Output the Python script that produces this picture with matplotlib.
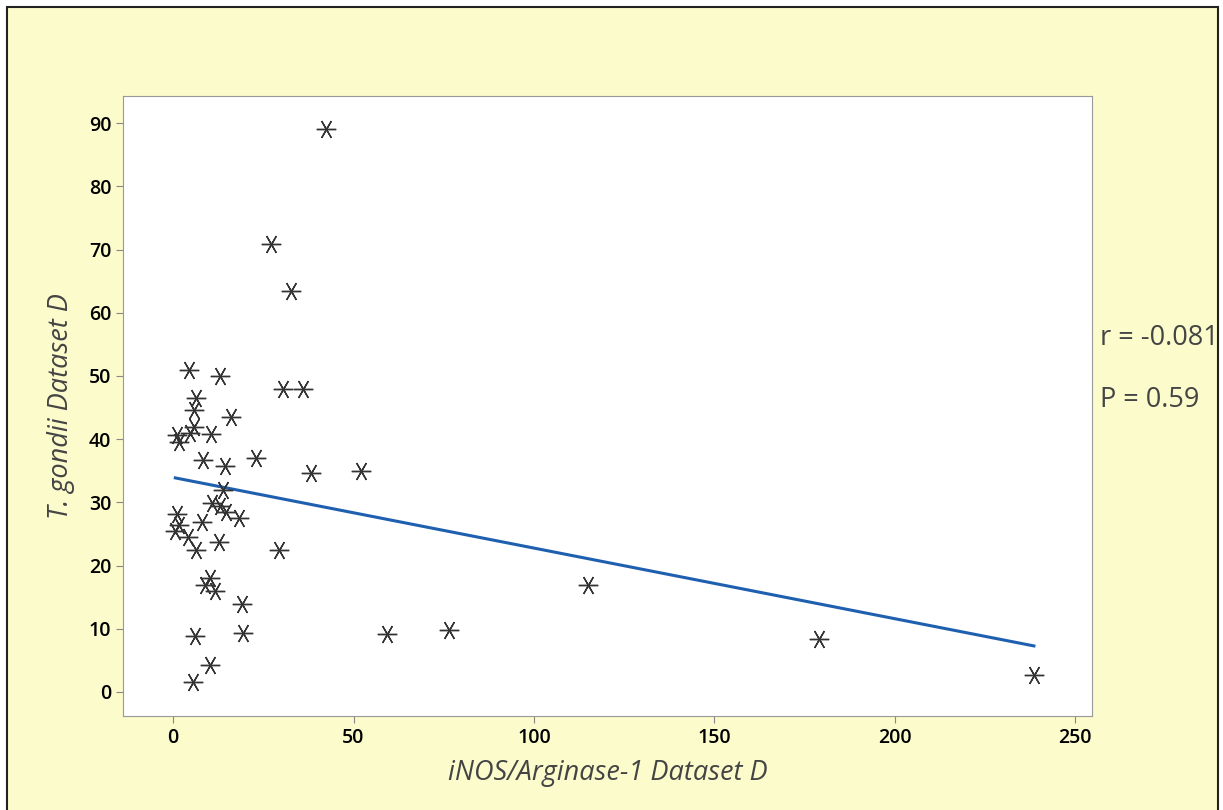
import matplotlib
matplotlib.use("Agg")
import matplotlib.pyplot as plt
from matplotlib.patches import Rectangle

# iNOS/Arginase-1 ratio vs T. gondii
inos_arg = [42.4, 27.2, 32.7, 4.5, 13.0, 30.4, 36.1, 6.4, 5.8, 16.1,
            5.8, 4.7, 1.2, 10.4, 1.7, 8.4, 23.0, 14.4, 38.2, 52.1,
            13.9, 10.8, 13.0, 14.7, 18.3, 1.0, 8.0, 1.5, 0.6, 4.2,
            12.8, 6.4, 29.3, 10.1, 8.9, 11.5, 19.2, 6.1, 19.5, 10.3,
            5.6, 59.3, 76.5, 115.0, 179.0, 238.6]
tgondii = [89.1, 70.9, 63.4, 51.0, 50.0, 47.9, 47.9, 46.5, 44.6, 43.5,
           41.9, 40.9, 40.7, 40.8, 39.6, 36.7, 37.0, 35.7, 34.7, 35.0,
           32.0, 29.9, 29.5, 28.4, 27.5, 28.2, 26.9, 26.4, 25.4, 24.5,
           23.8, 22.5, 22.5, 18.1, 16.9, 16.0, 13.9, 8.9, 9.4, 4.3,
           1.6, 9.2, 9.8, 16.9, 8.4, 2.7]

# fitted line as drawn in the reference
fit_intercept = 33.94
fit_slope = -0.1117
fit_range = [0.6, 238.6]

x_ticks = [0, 50, 100, 150, 200, 250]
y_ticks = [0, 10, 20, 30, 40, 50, 60, 70, 80, 90]

bg = "#fbfbcb"
plt.rcParams['font.family'] = ['Open Sans', 'DejaVu Sans']

fig = plt.figure(figsize=(12.23, 8.10), dpi=100)
fig.patch.set_facecolor("white")
fig.patches.append(Rectangle((7 / 1223, -0.01), 1211 / 1223, 1 - 7 / 810 + 0.01,
                             transform=fig.transFigure, facecolor=bg,
                             edgecolor="#222222", linewidth=1.5, zorder=-1))

ax = fig.add_axes([123 / 1223, 1 - 716 / 810, (1092 - 123) / 1223, (716 - 96) / 810])
ax.set_zorder(1)
ax.set_facecolor("white")

fit_y = [fit_intercept + fit_slope * v for v in fit_range]
ax.plot(fit_range, fit_y, color="#1f5fb0", linewidth=2.2, zorder=2)
ax.plot(inos_arg, tgondii, linestyle="none", marker=(6, 2, 90), markersize=14,
        markeredgecolor="#333333", markeredgewidth=1.0, zorder=3)

ax.set_xlim(-13.9, 254.7)
ax.set_ylim(-3.8, 94.3)
ax.set_xticks(x_ticks)
ax.set_yticks(y_ticks)
ax.tick_params(colors="#888888", labelcolor="black", labelsize=14, length=5)
for lbl in ax.get_xticklabels() + ax.get_yticklabels():
    lbl.set_fontweight("semibold")
for s in ax.spines.values():
    s.set_color("#999999")

ax.set_xlabel("iNOS/Arginase-1 Dataset D", fontsize=19.5, style="italic", color="#444444", labelpad=8)
ax.set_ylabel("T. gondii Dataset D", fontsize=19.5, style="italic", color="#444444", labelpad=10)

fig.text(1100 / 1223, 1 - 338 / 810, "r = -0.081", fontsize=19.5, color="#444444", va="center")
fig.text(1100 / 1223, 1 - 400 / 810, "P = 0.59", fontsize=19.5, color="#444444", va="center")

fig.savefig("out.png", dpi=100, facecolor=fig.get_facecolor())
